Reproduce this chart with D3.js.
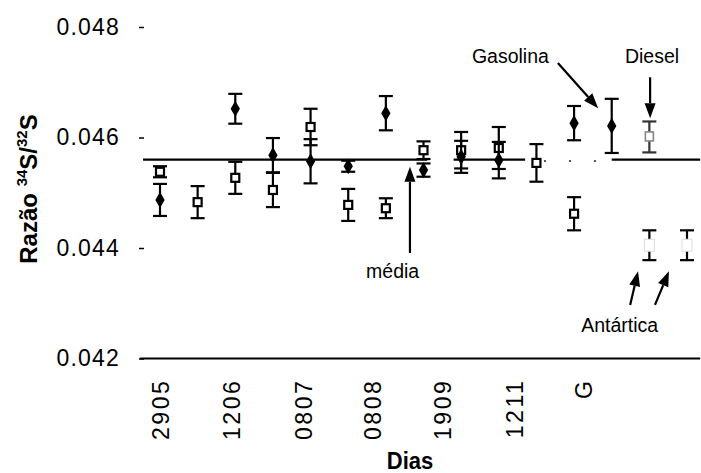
<!DOCTYPE html>
<html>
<head>
<meta charset="utf-8">
<script src="https://cdn.jsdelivr.net/npm/d3@7"></script>
<style>
  html, body { margin: 0; padding: 0; background: #fff; }
  svg { display: block; font-family: "Liberation Sans", Arial, sans-serif; }
</style>
</head>
<body>
<svg id="chart" width="701" height="473"></svg>
<script>
// Sampling days along the x axis (positions in sample units)
const dayLabels = ["2905", "1206", "0807", "0808", "1909", "1211", "G"];
const dayPos = [0, 1.9, 3.8, 5.65, 7.5, 9.4, 11.25];

const yTicks = [0.042, 0.044, 0.046, 0.048];

// Filled diamonds
const diamondPos = [0, 2, 3, 4, 5, 6, 7, 8, 9, 11, 12];
const diamondVal = [0.04487, 0.04652, 0.04568, 0.04557, 0.04548, 0.04644, 0.04541, 0.04565, 0.04559, 0.04626, 0.04621];
const diamondErr = [0.00029, 0.00027, 0.00031, 0.00040, 0.00010, 0.00031, 0.00012, 0.00029, 0.00033, 0.00031, 0.00049];

// Open squares
const squarePos = [0, 1, 2, 3, 4, 5, 6, 7, 8, 9, 10, 11];
const squareVal = [0.04538, 0.04483, 0.04527, 0.04505, 0.04619, 0.04478, 0.04472, 0.04577, 0.04577, 0.04581, 0.04554, 0.04462];
const squareErr = [0.00010, 0.00029, 0.00029, 0.00031, 0.00033, 0.00029, 0.00018, 0.00016, 0.00033, 0.00038, 0.00034, 0.00030];

// Diesel sample
const dieselPos = [13];
const dieselVal = [0.04601];
const dieselErr = [0.00028];

// Antarctic samples
const antarcticPos = [13, 14];
const antarcticVal = [0.04405, 0.04405];
const antarcticErr = [0.00027, 0.00027];

// Mean ratio and the stretches where its line is drawn
const meanValue = 0.0456;
const meanSolid = [[-0.45, 7.1], [7.8, 9.7], [12.0, 14.35]];
const meanDotted = [[10.2, 11.7]];

// Annotation labels and arrows (sample units, ratio)
const annoLabels = ["Gasolina", "Diesel", "Antártica", "média"];
const annoPos = [10.33, 13.07, 12.21, 6.18];
const annoVal = [0.04735, 0.04735, 0.04248, 0.04346];
const annoAnchor = ["end", "middle", "middle", "middle"];
const arrowFrom = [[10.57, 0.04735], [13.02, 0.04709], [12.49, 0.04297], [13.15, 0.04297], [6.64, 0.04391]];
const arrowTo = [[11.64, 0.04653], [13.02, 0.04635], [12.70, 0.04358], [13.52, 0.04358], [6.64, 0.04547]];

const axisExtent = [-0.53, 14.35];

const svg = d3.select("#chart");
const x = d3.scaleLinear().domain([0, 14]).range([160, 687]);
const y = d3.scaleLinear().domain([0.042, 0.048]).range([358.5, 27]);

// Y axis: short ticks, no spine
const gy = svg.append("g")
  .attr("transform", "translate(144,0)")
  .call(d3.axisLeft(y).tickValues(yTicks).tickFormat(d3.format(".3f")).tickSize(5).tickPadding(19));
gy.select(".domain").remove();
gy.attr("font-family", null).attr("font-size", null);
gy.selectAll(".tick line").attr("stroke", "#000").attr("stroke-width", 1.5);
gy.selectAll(".tick text").attr("font-size", 23).attr("letter-spacing", "1.2px").attr("fill", "#000");

// X axis baseline
svg.append("line")
  .attr("x1", x(axisExtent[0])).attr("x2", x(axisExtent[1]))
  .attr("y1", y(0.042)).attr("y2", y(0.042))
  .attr("stroke", "#000").attr("stroke-width", 2.2);

// X labels, rotated
const gx = svg.append("g")
  .attr("transform", `translate(0,${y(0.042)})`)
  .call(d3.axisBottom(x).tickValues(dayPos).tickFormat((d, i) => dayLabels[i]).tickSize(0));
gx.select(".domain").remove();
gx.attr("font-family", null).attr("font-size", null);
gx.selectAll(".tick text")
  .attr("font-size", 23)
  .attr("letter-spacing", "2.6px")
  .attr("fill", "#000")
  .attr("text-anchor", "end")
  .attr("transform", "translate(0,20) rotate(-90)")
  .attr("x", 0).attr("y", 0).attr("dy", "0.36em");

// Axis titles
svg.append("text")
  .attr("transform", "translate(410,469) scale(1,1.1)")
  .attr("text-anchor", "middle")
  .attr("font-weight", "bold").attr("font-size", 22)
  .text("Dias");

const yt = svg.append("text")
  .attr("transform", "translate(37,189) rotate(-90)")
  .attr("text-anchor", "middle")
  .attr("font-weight", "bold").attr("font-size", 24);
yt.append("tspan").text("Razão ");
yt.append("tspan").attr("font-size", 15).attr("dy", -10).text("34");
yt.append("tspan").attr("dy", 10).text("S/");
yt.append("tspan").attr("font-size", 15).attr("dy", -10).text("32");
yt.append("tspan").attr("dy", 10).text("S");

// Mean line
svg.append("g").selectAll("line").data(meanSolid).join("line")
  .attr("x1", d => x(d[0])).attr("x2", d => x(d[1]))
  .attr("y1", y(meanValue)).attr("y2", y(meanValue))
  .attr("stroke", "#000").attr("stroke-width", 2.2);
svg.append("g").selectAll("line").data(meanDotted).join("line")
  .attr("x1", d => x(d[0])).attr("x2", d => x(d[1]))
  .attr("y1", y(meanValue) + 1.5).attr("y2", y(meanValue) + 1.5)
  .attr("stroke", "#555").attr("stroke-width", 2).attr("stroke-dasharray", "2 23");

// Error bars with caps
function errorBars(pos, val, err, color) {
  const g = svg.append("g").attr("stroke", color).attr("stroke-width", 2.2);
  const rows = pos.map((p, i) => ({ p, v: val[i], e: err[i] }));
  g.selectAll("line.stem").data(rows).join("line").attr("class", "stem")
    .attr("x1", d => x(d.p)).attr("x2", d => x(d.p))
    .attr("y1", d => y(d.v + d.e)).attr("y2", d => y(d.v - d.e));
  g.selectAll("line.top").data(rows).join("line").attr("class", "top")
    .attr("x1", d => x(d.p) - 7).attr("x2", d => x(d.p) + 7)
    .attr("y1", d => y(d.v + d.e)).attr("y2", d => y(d.v + d.e));
  g.selectAll("line.bot").data(rows).join("line").attr("class", "bot")
    .attr("x1", d => x(d.p) - 7).attr("x2", d => x(d.p) + 7)
    .attr("y1", d => y(d.v - d.e)).attr("y2", d => y(d.v - d.e));
  return rows;
}

const sq = errorBars(squarePos, squareVal, squareErr, "#000");
svg.append("g").selectAll("rect").data(sq).join("rect")
  .attr("x", d => x(d.p) - 4).attr("y", d => y(d.v) - 4)
  .attr("width", 8).attr("height", 8)
  .attr("fill", "#fff").attr("stroke", "#000").attr("stroke-width", 2.2);

const dm = errorBars(diamondPos, diamondVal, diamondErr, "#000");
svg.append("g").selectAll("path").data(dm).join("path")
  .attr("transform", d => `translate(${x(d.p)},${y(d.v)})`)
  .attr("d", d3.symbol(d3.symbolDiamond, 75))
  .attr("fill", "#000");

const ds = errorBars(dieselPos, dieselVal, dieselErr, "#333");
svg.append("g").selectAll("rect").data(ds).join("rect")
  .attr("x", d => x(d.p) - 4).attr("y", d => y(d.v) - 5)
  .attr("width", 8).attr("height", 9)
  .attr("fill", "#fff").attr("stroke", "#888").attr("stroke-width", 1.6);

const an = errorBars(antarcticPos, antarcticVal, antarcticErr, "#000");
svg.append("g").selectAll("rect").data(an).join("rect")
  .attr("x", d => x(d.p) - 5).attr("y", d => y(d.v) - 6)
  .attr("width", 10).attr("height", 12)
  .attr("fill", "#fff").attr("stroke", "#ddd").attr("stroke-width", 1);

// Arrows
const ga = svg.append("g");
arrowFrom.forEach((f, i) => {
  const t = arrowTo[i];
  const x1 = x(f[0]), y1 = y(f[1]), x2 = x(t[0]), y2 = y(t[1]);
  const a = Math.atan2(y2 - y1, x2 - x1), L = 15, W = 5.5;
  const bx = x2 - L * Math.cos(a), by = y2 - L * Math.sin(a);
  ga.append("line").attr("x1", x1).attr("y1", y1).attr("x2", bx).attr("y2", by)
    .attr("stroke", "#000").attr("stroke-width", 2.2);
  ga.append("path")
    .attr("d", `M${x2},${y2}L${bx - W * Math.sin(a)},${by + W * Math.cos(a)}L${bx + W * Math.sin(a)},${by - W * Math.cos(a)}Z`)
    .attr("fill", "#000");
});

// Annotation labels
svg.append("g").selectAll("text").data(annoLabels).join("text")
  .attr("x", (d, i) => x(annoPos[i])).attr("y", (d, i) => y(annoVal[i]))
  .attr("text-anchor", (d, i) => annoAnchor[i])
  .attr("font-size", 19.5).attr("fill", "#000")
  .text(d => d);
</script>
</body>
</html>
